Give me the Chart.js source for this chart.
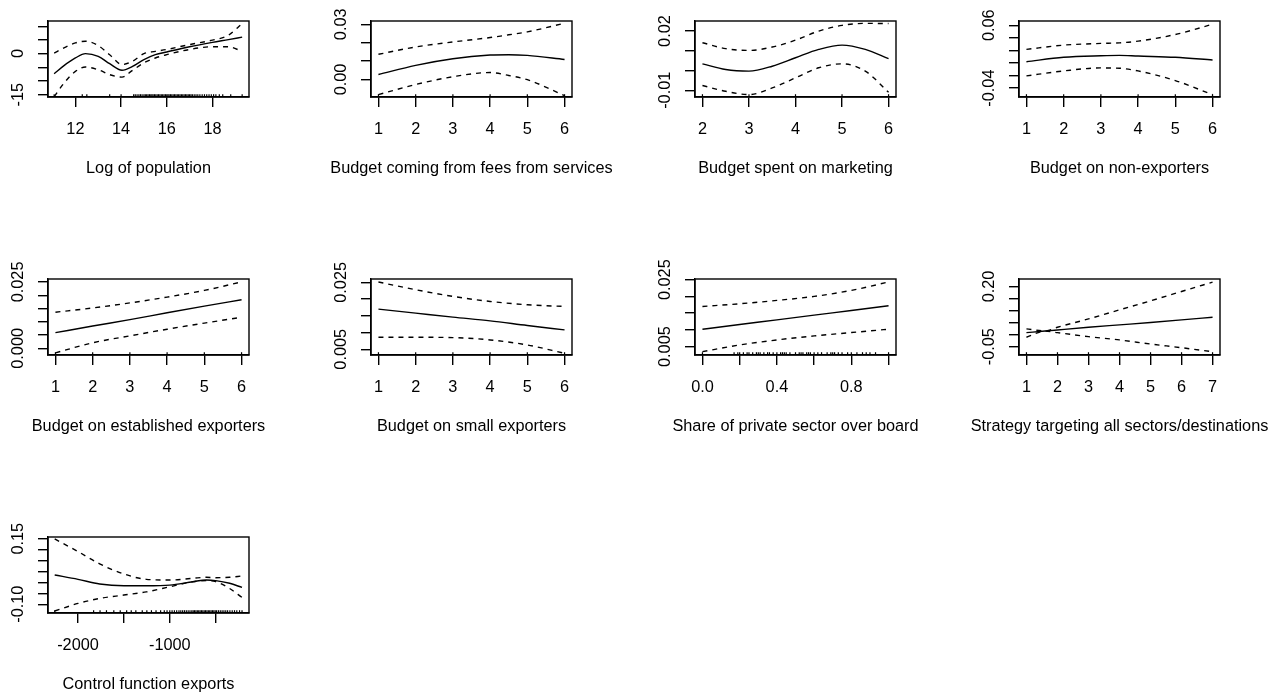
<!DOCTYPE html>
<html>
<head>
<meta charset="utf-8">
<script src="https://cdn.jsdelivr.net/npm/chart.js@4.4.1/dist/chart.umd.min.js"></script>
<style>
  html, body { margin: 0; padding: 0; background: #fff; overflow: hidden; }
  #wrap { position: relative; width: 1279px; height: 698px; overflow: hidden; background: #fff; }
  #wrap canvas { position: absolute; }
</style>
</head>
<body>
<div id="wrap"></div>
<script>
// --- 1. DATA ---

// Log of population
const popX     = [11.07, 11.5, 12.0, 12.44, 13.0, 13.5, 14.04, 14.5, 15.0, 15.5, 16.0, 17.0, 18.0, 18.7, 19.3];
const popFit   = [-7.35, -4.4, -1.6, 0.0, -1.0, -3.7, -6.1, -4.7, -2.2, -0.4, 0.6, 2.5, 4.1, 5.1, 6.0];
const popUpper = [0.2, 2.1, 3.9, 4.5, 2.9, -0.4, -4.0, -2.8, 0.0, 0.8, 1.5, 3.3, 4.9, 6.7, 11.0];
const popLower = [-15.7, -10.8, -6.5, -4.9, -5.9, -7.7, -8.6, -6.1, -3.4, -1.6, -0.4, 1.5, 2.5, 2.5, 0.8];
const popRug   = [11.07, 12.3, 12.5, 13.5, 14.0, 14.55, 14.62, 14.7, 14.78, 14.85, 14.92, 15.0, 15.06, 15.12,
                  15.18, 15.24, 15.3, 15.35, 15.4, 15.46, 15.52, 15.58, 15.64, 15.7, 15.76, 15.82, 15.88, 15.94,
                  16.0, 16.05, 16.1, 16.16, 16.22, 16.28, 16.34, 16.4, 16.46, 16.52, 16.58, 16.64, 16.7, 16.76,
                  16.82, 16.88, 16.94, 17.0, 17.06, 17.12, 17.2, 17.28, 17.36, 17.45, 17.55, 17.65, 17.75, 17.85,
                  17.95, 18.05, 18.15, 18.3, 18.45, 18.8, 19.3];
const popXRange = [10.8, 19.6];
const popYRange = [-15.85, 11.9];
const popXTicks = [12, 14, 16, 18];
const popXLabels = ['12', '14', '16', '18'];
const popYTicks = [-15, -10, -5, 0, 5, 10];
const popYLabels = ['-15', '', '', '0', '', ''];

// Budget coming from fees from services
const feesX     = [1, 2, 3, 4, 4.5, 5, 6];
const feesFit   = [0.0027, 0.0077, 0.0113, 0.0133, 0.0135, 0.0131, 0.0109];
const feesUpper = [0.0137, 0.0177, 0.0204, 0.0228, 0.0243, 0.0259, 0.0306];
const feesLower = [-0.0082, -0.0027, 0.0015, 0.0038, 0.0022, -0.0001, -0.0087];
const feesRug   = [1, 2, 3, 4, 5, 6];
const feesXRange = [0.8, 6.2];
const feesYRange = [-0.0095, 0.0318];
const feesXTicks = [1, 2, 3, 4, 5, 6];
const feesXLabels = ['1', '2', '3', '4', '5', '6'];
const feesYTicks = [0, 0.01, 0.02, 0.03];
const feesYLabels = ['0.00', '', '', '0.03'];

// Budget spent on marketing
const mktX     = [2, 2.5, 3, 3.5, 4, 4.5, 5, 5.5, 6];
const mktFit   = [0.0034, 0.0005, -0.0003, 0.0022, 0.0065, 0.0107, 0.0129, 0.0107, 0.006];
const mktUpper = [0.0141, 0.0111, 0.0102, 0.0119, 0.0154, 0.0200, 0.0229, 0.0239, 0.0238];
const mktLower = [-0.0076, -0.0105, -0.0122, -0.0088, -0.0037, 0.0014, 0.0034, -0.0003, -0.011];
const mktRug   = [2, 3, 4, 5, 6];
const mktXRange = [1.84, 6.16];
const mktYRange = [-0.0134, 0.0251];
const mktXTicks = [2, 3, 4, 5, 6];
const mktXLabels = ['2', '3', '4', '5', '6'];
const mktYTicks = [-0.01, 0, 0.01, 0.02];
const mktYLabels = ['-0.01', '', '', '0.02'];

// Budget on non-exporters
const nonX     = [1, 2, 3, 3.5, 4, 5, 6];
const nonFit   = [0.002, 0.009, 0.0115, 0.0121, 0.011, 0.009, 0.0047];
const nonUpper = [0.0216, 0.0284, 0.0311, 0.032, 0.0347, 0.0453, 0.0616];
const nonLower = [-0.0206, -0.0127, -0.0079, -0.0084, -0.0127, -0.028, -0.0506];
const nonRug   = [1, 2, 3, 4, 5, 6];
const nonXRange = [0.8, 6.2];
const nonYRange = [-0.0542, 0.0668];
const nonXTicks = [1, 2, 3, 4, 5, 6];
const nonXLabels = ['1', '2', '3', '4', '5', '6'];
const nonYTicks = [-0.04, -0.02, 0, 0.02, 0.04, 0.06];
const nonYLabels = ['-0.04', '', '', '', '', '0.06'];

// Budget on established exporters
const estX     = [1, 2, 3, 4, 5, 6];
const estFit   = [0.0059, 0.0084, 0.0108, 0.0134, 0.0159, 0.0183];
const estUpper = [0.0136, 0.0152, 0.0171, 0.0193, 0.0218, 0.025];
const estLower = [-0.0017, 0.0021, 0.0047, 0.0072, 0.0095, 0.0117];
const estRug   = [1, 2, 3, 4, 5, 6];
const estXRange = [0.8, 6.2];
const estYRange = [-0.0025, 0.0261];
const estXTicks = [1, 2, 3, 4, 5, 6];
const estXLabels = ['1', '2', '3', '4', '5', '6'];
const estYTicks = [0, 0.005, 0.01, 0.015, 0.02, 0.025];
const estYLabels = ['0.000', '', '', '', '', '0.025'];

// Budget on small exporters
const smallX     = [1, 2, 3, 4, 5, 6];
const smallFit   = [0.017, 0.0158, 0.0146, 0.0135, 0.0121, 0.0108];
const smallUpper = [0.0251, 0.0228, 0.0208, 0.0193, 0.0183, 0.0178];
const smallLower = [0.0086, 0.0086, 0.0085, 0.0078, 0.0063, 0.0038];
const smallRug   = [1, 2, 3, 4, 5, 6];
const smallXRange = [0.8, 6.2];
const smallYRange = [0.0033, 0.026];
const smallXTicks = [1, 2, 3, 4, 5, 6];
const smallXLabels = ['1', '2', '3', '4', '5', '6'];
const smallYTicks = [0.005, 0.01, 0.015, 0.02, 0.025];
const smallYLabels = ['0.005', '', '', '', '0.025'];

// Share of private sector over board
const privX     = [0, 0.2, 0.4, 0.6, 0.8, 1.0];
const privFit   = [0.0102, 0.0116, 0.013, 0.0144, 0.0158, 0.0172];
const privUpper = [0.017, 0.0178, 0.0188, 0.020, 0.0218, 0.0243];
const privLower = [0.0035, 0.0055, 0.007, 0.0082, 0.0092, 0.0102];
const privRug   = [0, 0.17, 0.19, 0.2, 0.22, 0.24, 0.25, 0.27, 0.29, 0.3, 0.31, 0.33, 0.35, 0.36, 0.38, 0.4,
                   0.42, 0.43, 0.44, 0.45, 0.47, 0.5, 0.52, 0.53, 0.54, 0.56, 0.57, 0.58, 0.6, 0.62, 0.64,
                   0.67, 0.69, 0.7, 0.71, 0.73, 0.75, 0.78, 0.8, 0.83, 0.86, 0.88, 0.9, 0.93, 1.0];
const privXRange = [-0.04, 1.04];
const privYRange = [0.0025, 0.0252];
const privXTicks = [0, 0.2, 0.4, 0.6, 0.8, 1.0];
const privXLabels = ['0.0', '', '0.4', '', '0.8', ''];
const privYTicks = [0.005, 0.01, 0.015, 0.02, 0.025];
const privYLabels = ['0.005', '', '', '', '0.025'];

// Strategy targeting all sectors/destinations
const stratX     = [1, 1.6, 2, 3, 4, 5, 6, 7];
const stratFit   = [0.0082, 0.015, 0.0195, 0.0305, 0.0405, 0.0505, 0.0612, 0.0724];
const stratUpper = [0.024, 0.0155, 0.0307, 0.0653, 0.1028, 0.1403, 0.1792, 0.218];
const stratLower = [-0.011, 0.0145, 0.0082, -0.0085, -0.022, -0.039, -0.0543, -0.071];
const stratRug   = [1, 2, 3, 4, 5, 6, 7];
const stratXRange = [0.76, 7.24];
const stratYRange = [-0.0846, 0.231];
const stratXTicks = [1, 2, 3, 4, 5, 6, 7];
const stratXLabels = ['1', '2', '3', '4', '5', '6', '7'];
const stratYTicks = [-0.05, 0, 0.05, 0.1, 0.15, 0.2];
const stratYLabels = ['-0.05', '', '', '', '', '0.20'];

// Control function exports
const ctrlX     = [-2254, -2000, -1764, -1500, -1256, -1000, -747, -602, -500, -348, -213];
const ctrlFit   = [0.0115, -0.005, -0.023, -0.0296, -0.0296, -0.027, -0.014, -0.0077, -0.010, -0.020, -0.036];
const ctrlUpper = [0.149, 0.101, 0.054, 0.0154, -0.005, -0.0077, -0.001, 0.0027, 0.0012, 0.0027, 0.0077];
const ctrlLower = [-0.126, -0.097, -0.078, -0.065, -0.053, -0.0335, -0.014, -0.010, -0.014, -0.040, -0.074];
const ctrlRug   = [-2254, -1830, -1760, -1690, -1610, -1540, -1470, -1420, -1370, -1300, -1250, -1200, -1150,
                   -1100, -1060, -1030, -1000, -975, -950, -925, -900, -880, -860, -840, -820, -800, -780, -760,
                   -745, -730, -715, -700, -685, -670, -655, -640, -625, -610, -595, -580, -565, -550, -535,
                   -520, -505, -490, -470, -450, -430, -410, -390, -370, -345, -320, -295, -270, -240, -213];
const ctrlXRange = [-2327, -137];
const ctrlYRange = [-0.1335, 0.1565];
const ctrlXTicks = [-2000, -1500, -1000, -500];
const ctrlXLabels = ['-2000', '', '-1000', ''];
const ctrlYTicks = [-0.1, -0.0583, -0.0167, 0.025, 0.0667, 0.1083, 0.15];
const ctrlYLabels = ['-0.10', '', '', '', '', '', '0.15'];

// --- 2. PANEL TABLE (built from the arrays above) ---
const panels = [
  { title: 'Log of population', x: popX, fit: popFit, up: popUpper, lo: popLower, rug: popRug,
    xr: popXRange, yr: popYRange, xt: popXTicks, xl: popXLabels, yt: popYTicks, yl: popYLabels },
  { title: 'Budget coming from fees from services', x: feesX, fit: feesFit, up: feesUpper, lo: feesLower, rug: feesRug,
    xr: feesXRange, yr: feesYRange, xt: feesXTicks, xl: feesXLabels, yt: feesYTicks, yl: feesYLabels },
  { title: 'Budget spent on marketing', x: mktX, fit: mktFit, up: mktUpper, lo: mktLower, rug: mktRug,
    xr: mktXRange, yr: mktYRange, xt: mktXTicks, xl: mktXLabels, yt: mktYTicks, yl: mktYLabels },
  { title: 'Budget on non-exporters', x: nonX, fit: nonFit, up: nonUpper, lo: nonLower, rug: nonRug,
    xr: nonXRange, yr: nonYRange, xt: nonXTicks, xl: nonXLabels, yt: nonYTicks, yl: nonYLabels },
  { title: 'Budget on established exporters', x: estX, fit: estFit, up: estUpper, lo: estLower, rug: estRug,
    xr: estXRange, yr: estYRange, xt: estXTicks, xl: estXLabels, yt: estYTicks, yl: estYLabels },
  { title: 'Budget on small exporters', x: smallX, fit: smallFit, up: smallUpper, lo: smallLower, rug: smallRug,
    xr: smallXRange, yr: smallYRange, xt: smallXTicks, xl: smallXLabels, yt: smallYTicks, yl: smallYLabels },
  { title: 'Share of private sector over board', x: privX, fit: privFit, up: privUpper, lo: privLower, rug: privRug,
    xr: privXRange, yr: privYRange, xt: privXTicks, xl: privXLabels, yt: privYTicks, yl: privYLabels },
  { title: 'Strategy targeting all sectors/destinations', x: stratX, fit: stratFit, up: stratUpper, lo: stratLower, rug: stratRug,
    xr: stratXRange, yr: stratYRange, xt: stratXTicks, xl: stratXLabels, yt: stratYTicks, yl: stratYLabels },
  { title: 'Control function exports', x: ctrlX, fit: ctrlFit, up: ctrlUpper, lo: ctrlLower, rug: ctrlRug,
    xr: ctrlXRange, yr: ctrlYRange, xt: ctrlXTicks, xl: ctrlXLabels, yt: ctrlYTicks, yl: ctrlYLabels }
];

// --- 3. LAYOUT ---
const FONT = "'Liberation Sans', Arial, Helvetica, sans-serif";
const FS = 16.3;
const LW = 1.4;
const COL_LEFT = [48, 371, 695, 1019];
const ROW_TOP = [21, 279, 537];
const BOX_W = 201, BOX_H = 76;
const SIDE = 70;          // y-axis width on the left, spacer on the right
const TOP_PAD = 20;
const X_AXIS_H = 45;
const TITLE_PAD = { top: 17, bottom: 3 };
const TICK_LEN = 10;
const YLAB_GAP = 29;      // box edge -> centre of rotated y labels
const CW = SIDE * 2 + BOX_W;
const CH = TOP_PAD + BOX_H + X_AXIS_H + 20 + TITLE_PAD.top + TITLE_PAD.bottom;

const measureCtx = document.createElement('canvas').getContext('2d');
function textWidth(t) {
  measureCtx.font = FS + 'px ' + FONT;
  return measureCtx.measureText(t).width;
}

const boxPlugin = {
  id: 'box',
  afterDraw(chart) {
    const { ctx, chartArea: a } = chart;
    ctx.save();
    ctx.strokeStyle = '#000';
    ctx.lineWidth = LW;
    ctx.strokeRect(a.left, a.top, a.right - a.left, a.bottom - a.top);
    ctx.restore();
  }
};

const pts = (xs, ys) => xs.map((x, i) => ({ x: x, y: ys[i] }));
const axisFont = { family: FONT, size: FS, lineHeight: '20px' };
const axisGrid = { display: true, drawOnChartArea: false, drawTicks: true, tickLength: TICK_LEN, color: '#000', lineWidth: LW };

// --- 4. DRAW PANELS ---
const wrap = document.getElementById('wrap');
panels.forEach((p, k) => {
  const col = k % 4, row = Math.floor(k / 4);
  const canvas = document.createElement('canvas');
  canvas.width = CW;
  canvas.height = CH;
  canvas.style.left = (COL_LEFT[col] - SIDE) + 'px';
  canvas.style.top = (ROW_TOP[row] - TOP_PAD) + 'px';
  wrap.appendChild(canvas);

  const widest = Math.max(...p.yl.map(textWidth));
  const yPad = YLAB_GAP - TICK_LEN - widest / 2;
  const line = (data, dash) => ({
    data: data, borderColor: '#000', borderWidth: LW, borderDash: dash,
    pointRadius: 0, fill: false, cubicInterpolationMode: 'monotone'
  });

  new Chart(canvas, {
    type: 'line',
    data: {
      datasets: [
        line(pts(p.x, p.fit), []),
        line(pts(p.x, p.up), [5, 5]),
        line(pts(p.x, p.lo), [5, 5]),
        {
          data: p.rug.map(v => ({ x: v, y: p.yr[0] })),
          showLine: false, pointStyle: 'line', rotation: 90, pointRadius: 2.8,
          borderColor: '#000', borderWidth: 1.2, clip: 0
        }
      ]
    },
    options: {
      responsive: false,
      devicePixelRatio: 1,
      animation: false,
      events: [],
      layout: { padding: { left: 0, right: 0, top: TOP_PAD, bottom: 0 } },
      plugins: {
        legend: { display: false },
        tooltip: { enabled: false },
        title: {
          display: true, position: 'bottom', text: p.title, color: '#000',
          font: { family: FONT, size: FS, weight: 'normal', lineHeight: '20px' },
          padding: TITLE_PAD
        }
      },
      scales: {
        x: {
          type: 'linear', position: 'bottom', min: p.xr[0], max: p.xr[1],
          afterBuildTicks: s => { s.ticks = p.xt.map(v => ({ value: v })); },
          afterFit: s => { s.height = X_AXIS_H; },
          ticks: { callback: (v, i) => p.xl[i], color: '#000', font: axisFont, padding: 12.5,
                   autoSkip: false, minRotation: 0, maxRotation: 0 },
          grid: axisGrid,
          border: { display: true, color: '#000', width: LW }
        },
        y: {
          type: 'linear', position: 'left', min: p.yr[0], max: p.yr[1],
          afterBuildTicks: s => { s.ticks = p.yt.map(v => ({ value: v })); },
          afterFit: s => { s.width = SIDE; },
          ticks: { callback: (v, i) => p.yl[i], color: '#000', font: axisFont, padding: yPad,
                   autoSkip: false, minRotation: 90, maxRotation: 90, crossAlign: 'center' },
          grid: axisGrid,
          border: { display: true, color: '#000', width: LW }
        },
        spacer: {
          type: 'linear', position: 'right', display: true,
          afterFit: s => { s.width = SIDE; },
          ticks: { display: false }, grid: { display: false }, border: { display: false }
        }
      }
    },
    plugins: [boxPlugin]
  });
});
</script>
</body>
</html>
